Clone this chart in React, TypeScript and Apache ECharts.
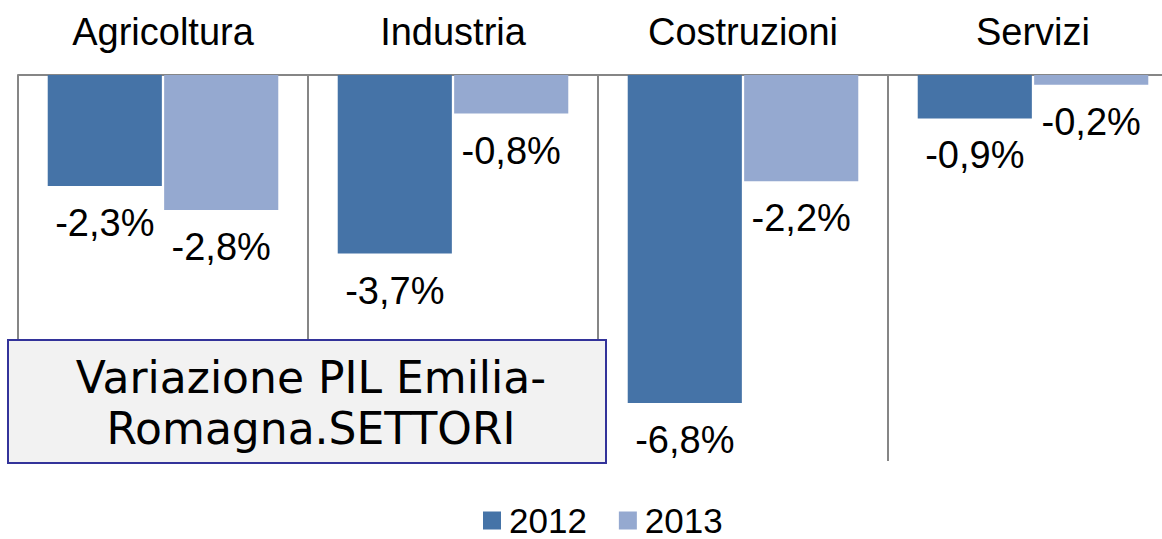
import React, { useEffect, useRef } from "react";
import * as echarts from "echarts";

const categories = ["Agricoltura", "Industria", "Costruzioni", "Servizi"];
const values2012 = [-2.3, -3.7, -6.8, -0.9];
const values2013 = [-2.8, -0.8, -2.2, -0.2];
const seriesNames = ["2012", "2013"];
const titleLines = ["Variazione PIL Emilia-", "Romagna.SETTORI"];

const fmt = (v: number) => v.toFixed(1).replace(".", ",") + "%";

export default function App() {
  const ref = useRef<HTMLDivElement>(null);
  useEffect(() => {
    document.body.style.margin = "0";
    const chart = echarts.init(ref.current!, null, { renderer: "svg" });
    const labelCfg = {
      show: true,
      position: "bottom" as const,
      distance: 18,
      fontSize: 38,
      fontFamily: "Liberation Sans, Arial, sans-serif",
      color: "#000",
      formatter: (p: any) => fmt(p.value),
    };
    chart.setOption({
      animation: false,
      backgroundColor: "#fff",
      grid: { left: 18, top: 75, width: 1160, height: 386, outerBoundsMode: "none", containLabel: false },
      legend: {
        left: 483,
        top: 503,
        padding: 0,
        itemWidth: 18,
        itemHeight: 18,
        itemGap: 32,
        icon: "rect",
        textStyle: {
          fontSize: 35,
          fontFamily: "Liberation Sans, Arial, sans-serif",
          color: "#000",
          padding: [0, 0, 0, 3],
        },
        data: seriesNames,
      },
      xAxis: {
        type: "category",
        position: "top",
        data: categories,
        axisLine: { show: true, lineStyle: { color: "#868686", width: 2 } },
        axisTick: { show: false },
        axisLabel: {
          margin: 24,
          fontSize: 38,
          fontFamily: "Liberation Sans, Arial, sans-serif",
          color: "#000",
        },
        splitLine: { show: true, lineStyle: { color: "#868686", width: 2 } },
      },
      yAxis: {
        type: "value",
        min: -8,
        max: 0,
        show: false,
        splitLine: { show: false },
      },
      series: [
        {
          name: seriesNames[0],
          type: "bar",
          data: values2012,
          barCategoryGap: "20.5%",
          barGap: "2%",
          itemStyle: { color: "#4573A7" },
          label: labelCfg,
        },
        {
          name: seriesNames[1],
          type: "bar",
          data: values2013,
          barCategoryGap: "20.5%",
          barGap: "2%",
          itemStyle: { color: "#95A9D0" },
          label: labelCfg,
        },
      ],
      graphic: [
        {
          type: "rect",
          shape: { x: 8, y: 340, width: 598, height: 123 },
          style: { fill: "#F2F2F2", stroke: "#33339A", lineWidth: 2 },
          z: 10,
        },
        {
          type: "text",
          x: 311,
          y: 403,
          z: 11,
          style: {
            text: titleLines.join("\n"),
            fontSize: 44,
            lineHeight: 51,
            fontFamily: "DejaVu Sans, Verdana, sans-serif",
            fill: "#000",
            align: "center",
            verticalAlign: "middle",
          },
        },
      ],
    });
    return () => chart.dispose();
  }, []);
  return (
    <div style={{ width: 1162, height: 539, overflow: "hidden", position: "relative" }}>
      <div ref={ref} style={{ width: 1178, height: 539 }} />
    </div>
  );
}
